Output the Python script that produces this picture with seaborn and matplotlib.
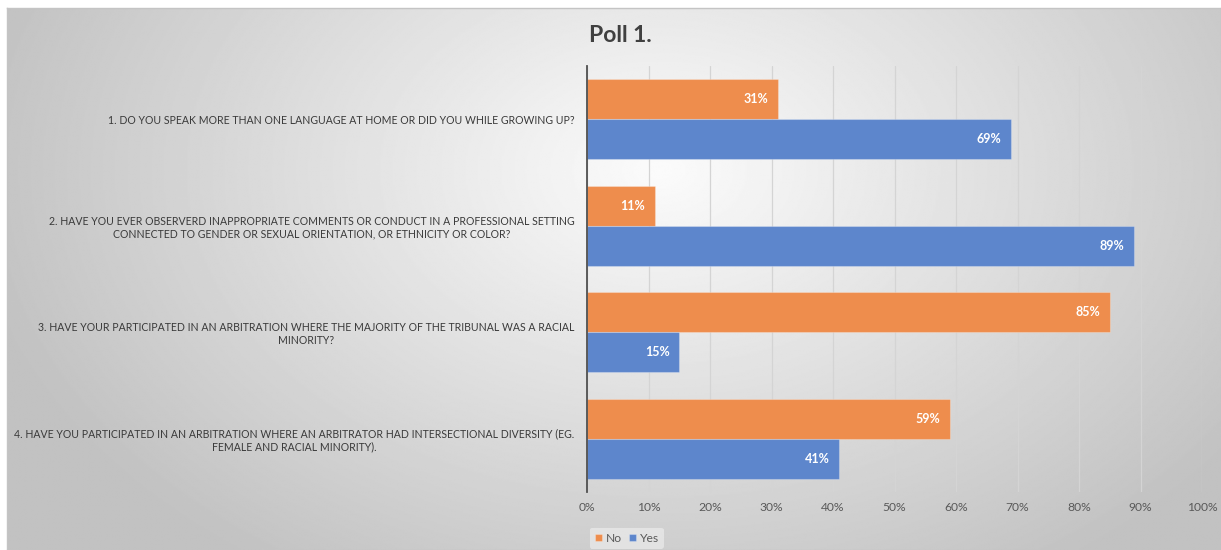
import numpy as np
import pandas as pd
import matplotlib
matplotlib.use("Agg")
import matplotlib.pyplot as plt
import seaborn as sns

questions = [
    "1. DO YOU SPEAK MORE THAN ONE LANGUAGE AT HOME OR DID YOU WHILE GROWING UP?",
    "2. HAVE YOU EVER OBSERVERD INAPPROPRIATE COMMENTS OR CONDUCT IN A PROFESSIONAL SETTING\nCONNECTED TO GENDER OR SEXUAL ORIENTATION, OR ETHNICITY OR COLOR?",
    "3. HAVE YOUR PARTICIPATED IN AN ARBITRATION WHERE THE MAJORITY OF THE TRIBUNAL WAS A RACIAL\nMINORITY?",
    "4. HAVE YOU PARTICIPATED IN AN ARBITRATION WHERE AN ARBITRATOR HAD INTERSECTIONAL DIVERSITY (EG.\nFEMALE AND RACIAL MINORITY).",
]
no_values = [31, 11, 85, 59]
yes_values = [69, 89, 15, 41]
series = ["No", "Yes"]
colors = {"No": "#EE8D4D", "Yes": "#5D86CC"}
xticks = [0, 10, 20, 30, 40, 50, 60, 70, 80, 90, 100]

df = pd.DataFrame({
    "question": questions * 2,
    "answer": ["No"] * 4 + ["Yes"] * 4,
    "value": no_values + yes_values,
})

sns.set_theme(style="white")
plt.rcParams["font.family"] = ["Lato", "DejaVu Sans"]

W, H = 1221, 550
fig = plt.figure(figsize=(W / 100, H / 100), dpi=100)
fig.patch.set_facecolor("white")

# background radial gradient panel
bg = fig.add_axes([7 / W, 0, 1 - 7 / W, (H - 8) / H], zorder=-5)
yy, xx = np.mgrid[0:400, 0:800]
gx = (xx / 799) * (W - 7) + 7
gy = (yy / 399) * (H - 8) + 8
r = np.sqrt(((gx - 660) / 650) ** 2 + ((gy - 170) / 450) ** 2)
val = np.clip(0.985 - 0.21 * r, 0.76, 1.0)
bg.imshow(val, cmap="gray", vmin=0, vmax=1, aspect="auto", interpolation="bilinear")
bg.set_xticks([])
bg.set_yticks([])
for s in bg.spines.values():
    s.set_color("#c4c4c4")
    s.set_linewidth(1.0)

ax = fig.add_axes([587 / W, 1 - 492 / H, (1202 - 587) / W, (492 - 66) / H])
ax.patch.set_alpha(0)

sns.barplot(data=df, y="question", x="value", hue="answer", hue_order=series,
            palette=colors, orient="h", width=0.75, ax=ax, saturation=1,
            edgecolor="#ffffff40", linewidth=0.8, legend=True, zorder=3)

ax.set_xlim(0, 100)
ax.set_xticks(xticks)
ax.set_xticklabels([f"{t}%" for t in xticks], fontsize=8.7, color="#595959")
ax.set_yticks(range(len(questions)))
ax.set_yticklabels(questions, fontsize=7.6, color="#3a3a3a", multialignment="center")
ax.tick_params(axis="y", length=0, pad=9)
ax.tick_params(axis="x", length=0, pad=7)
ax.set_xlabel("")
ax.set_ylabel("")
ax.grid(axis="x", color="#d4d4d4", linewidth=0.9, zorder=0)
ax.grid(axis="y", visible=False)
for side in ["top", "right", "bottom"]:
    ax.spines[side].set_visible(False)
ax.spines["left"].set_color("#505050")
ax.spines["left"].set_linewidth(1.3)
ax.spines["left"].set_zorder(4)

for cont in ax.containers:
    texts = ax.bar_label(cont, labels=[f"{int(v)}%" for v in cont.datavalues],
                         padding=-7, color="white", fontsize=9, fontweight="bold")
    for t in texts:
        t.set_ha("right")
        t.set_zorder(5)

leg = ax.legend(loc="upper left", bbox_to_anchor=(-0.005, -0.07), ncol=2,
                frameon=True, fontsize=8.7, handlelength=0.6, handleheight=0.6,
                handletextpad=0.3, columnspacing=0.6, borderpad=0.4)
leg.get_frame().set_facecolor("#e8e8e8")
leg.get_frame().set_edgecolor("none")
for t in leg.get_texts():
    t.set_color("#595959")

fig.text(620 / W, 1 - 35 / H, "Poll 1.", ha="center", va="center",
         fontsize=16.5, fontweight="bold", color="#404040")

fig.savefig("out.png", dpi=100)
